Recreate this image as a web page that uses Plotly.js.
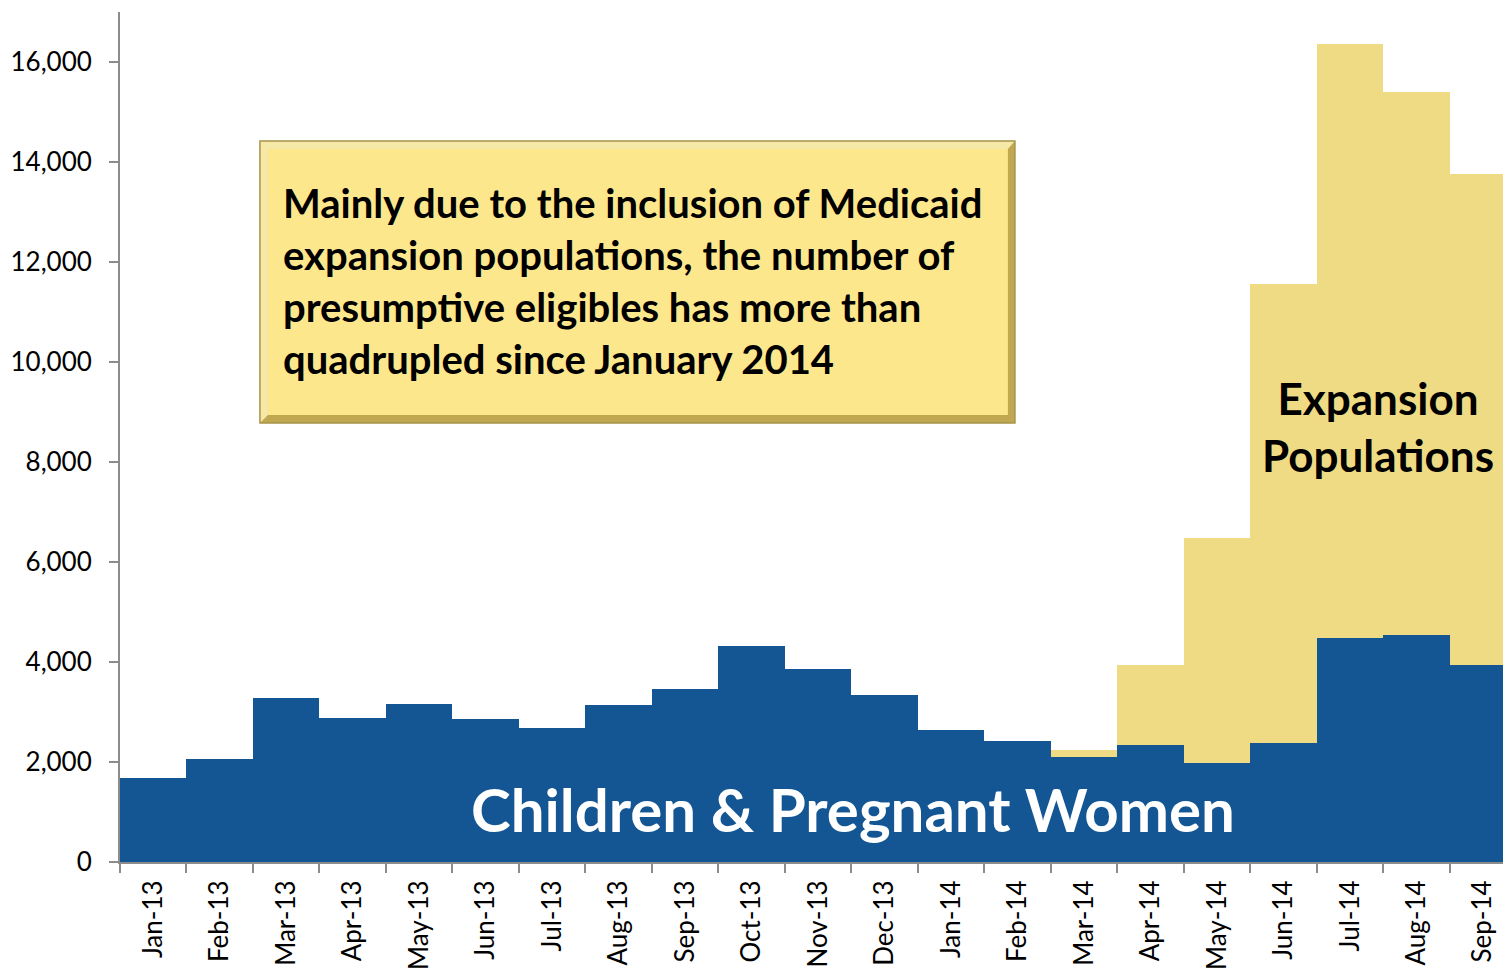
<!DOCTYPE html>
<html>
<head>
<meta charset="utf-8">
<script src="https://cdn.plot.ly/plotly-3.0.1.min.js"></script>
<style>html,body{margin:0;padding:0;background:#fff;}#chart{width:1503px;height:969px;}</style>
</head>
<body>
<div id="chart"></div>
<script>
const months = ["Jan-13","Feb-13","Mar-13","Apr-13","May-13","Jun-13","Jul-13","Aug-13","Sep-13","Oct-13","Nov-13","Dec-13","Jan-14","Feb-14","Mar-14","Apr-14","May-14","Jun-14","Jul-14","Aug-14","Sep-14"];
const childrenPregnant = [1680,2060,3280,2880,3160,2860,2680,3140,3460,4320,3860,3340,2640,2420,2100,2340,1980,2380,4480,4540,3940];
const expansion = [0,0,0,0,0,0,0,0,0,0,0,0,0,0,140,1600,4500,9180,11880,10860,9820];
const yTicks = [0,2000,4000,6000,8000,10000,12000,14000,16000];
const yTickText = ["0","2,000","4,000","6,000","8,000","10,000","12,000","14,000","16,000"];

const font = "Lato, 'Open Sans', sans-serif";

const traces = [
  {type:"bar", name:"Children & Pregnant Women", x:months, y:childrenPregnant,
   marker:{color:"#135693", line:{width:0}}, hoverinfo:"x+y"},
  {type:"bar", name:"Expansion Populations", x:months, y:expansion,
   marker:{color:"#EFDB84", line:{width:0}}, hoverinfo:"x+y"}
];

const layout = {
  width:1503, height:969,
  margin:{l:120, r:0, t:12, b:107},
  paper_bgcolor:"#fff", plot_bgcolor:"#fff",
  barmode:"stack", bargap:0,
  showlegend:false,
  font:{family:font, color:"#000"},
  xaxis:{
    type:"category", range:[-0.5, 20.3],
    showline:true, linecolor:"#8c8c8c", linewidth:2,
    ticks:"outside", tickson:"boundaries", ticklen:9, tickwidth:2, tickcolor:"#8c8c8c",
    tickangle:-90, tickfont:{size:26, family:font, color:"#000"},
    ticklabelstandoff:6,
    showgrid:false, zeroline:false, fixedrange:true
  },
  yaxis:{
    range:[0,17000],
    tickvals:yTicks, ticktext:yTickText,
    showline:true, linecolor:"#8c8c8c", linewidth:2,
    ticks:"outside", ticklen:9, tickwidth:2, tickcolor:"#8c8c8c",
    tickfont:{size:26, family:font, color:"#000"},
    ticklabelstandoff:12,
    showgrid:false, zeroline:false, fixedrange:true
  },
  shapes:[
    {type:"rect", xref:"paper", yref:"paper", x0:0.1012, x1:0.6471, y0:0.5165, y1:0.8482,
     fillcolor:"#BFA851", line:{width:0}, layer:"above"},
    {type:"path", xref:"paper", yref:"paper",
     path:"M 0.1012 0.5165 L 0.1012 0.8482 L 0.6471 0.8482 L 0.6420 0.8388 L 0.1070 0.8388 L 0.1070 0.5259 Z",
     fillcolor:"#F6E8A6", line:{width:0}, layer:"above"},
    {type:"rect", xref:"paper", yref:"paper", x0:0.1070, x1:0.6420, y0:0.5259, y1:0.8388,
     fillcolor:"#FDE78D", line:{width:0}, layer:"above"},
    {type:"rect", xref:"paper", yref:"paper", x0:0.1012, x1:0.6471, y0:0.5165, y1:0.8482,
     fillcolor:"rgba(0,0,0,0)", line:{width:1.5, color:"#A8944A"}, layer:"above"}
  ],
  annotations:[
    {xref:"paper", yref:"paper", x:0.1164, y:0.684, xanchor:"left", yanchor:"middle",
     align:"left", showarrow:false,
     text:"<b>Mainly due to the inclusion of Medicaid<br>expansion populations, the number of<br>presumptive eligibles has more than<br>quadrupled since January 2014</b>",
     font:{size:40, family:font, color:"#000"}},
    {xref:"paper", yref:"paper", x:0.5300, y:0.062, xanchor:"center", yanchor:"middle",
     showarrow:false, text:"<b>Children &amp; Pregnant Women</b>",
     font:{size:60, family:font, color:"#fff"}},
    {xref:"paper", yref:"paper", x:0.9096, y:0.512, xanchor:"center", yanchor:"middle",
     align:"center", showarrow:false, text:"<b>Expansion<br>Populations</b>",
     font:{size:44, family:font, color:"#000"}}
  ]
};

Plotly.newPlot("chart", traces, layout, {displayModeBar:false, staticPlot:true});
</script>
</body>
</html>
